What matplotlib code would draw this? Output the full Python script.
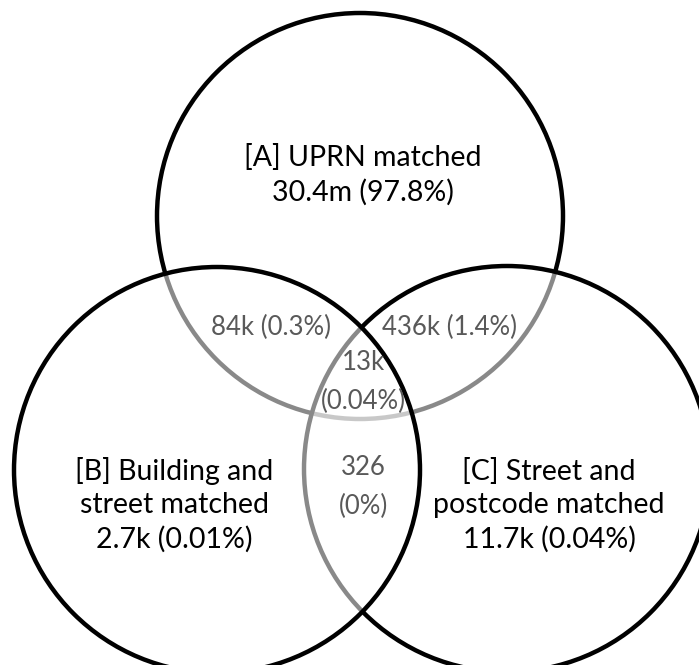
import matplotlib.pyplot as plt
from matplotlib.patches import Circle

plt.rcParams['font.family'] = ['Lato', 'DejaVu Sans']

# set labels, counts and shares
set_names = ["[A] UPRN matched", "[B] Building and\nstreet matched", "[C] Street and\npostcode matched"]
set_counts = ["30.4m", "2.7k", "11.7k"]
set_shares = ["97.8%", "0.01%", "0.04%"]

# overlap regions: A&B, A&C, A&B&C, B&C
overlap_counts = ["84k", "436k", "13k", "326"]
overlap_shares = ["0.3%", "1.4%", "0.04%", "0%"]

W, H = 699, 665
fig = plt.figure(figsize=(W / 100, H / 100), dpi=100)
ax = fig.add_axes([0, 0, 1, 1])
ax.set_xlim(0, W)
ax.set_ylim(H, 0)
ax.axis("off")

# circle layout (pixels): A at the back, C middle, B in front
circles = {
    "A": ((360, 216), 203, 1),
    "C": ((507, 469), 203, 2),
    "B": ((217, 470), 203, 3),
}
for key, (centre, r, z) in circles.items():
    ax.add_patch(Circle(centre, r, facecolor=(1, 1, 1, 0.54),
                        edgecolor="black", lw=3.2, zorder=z))

main_size = 20.5
small_size = 18.5

ax.text(363, 175, f"{set_names[0]}\n{set_counts[0]} ({set_shares[0]})",
        ha="center", va="center", fontsize=main_size, color="black",
        linespacing=1.35, zorder=5)
ax.text(174, 505, f"{set_names[1]}\n{set_counts[1]} ({set_shares[1]})",
        ha="center", va="center", fontsize=main_size, color="black",
        linespacing=1.35, zorder=5)
ax.text(549, 505, f"{set_names[2]}\n{set_counts[2]} ({set_shares[2]})",
        ha="center", va="center", fontsize=main_size, color="black",
        linespacing=1.35, zorder=5)

grey = "#595959"
ax.text(271, 327, f"{overlap_counts[0]} ({overlap_shares[0]})",
        ha="center", va="center", fontsize=small_size, color=grey, zorder=5)
ax.text(449, 327, f"{overlap_counts[1]} ({overlap_shares[1]})",
        ha="center", va="center", fontsize=small_size, color=grey, zorder=5)
ax.text(363, 382, f"{overlap_counts[2]}\n({overlap_shares[2]})",
        ha="center", va="center", fontsize=small_size, color=grey,
        linespacing=1.65, zorder=5)
ax.text(363, 487, f"{overlap_counts[3]}\n({overlap_shares[3]})",
        ha="center", va="center", fontsize=small_size, color=grey,
        linespacing=1.65, zorder=5)

fig.savefig("out.png", dpi=100, facecolor="white")
